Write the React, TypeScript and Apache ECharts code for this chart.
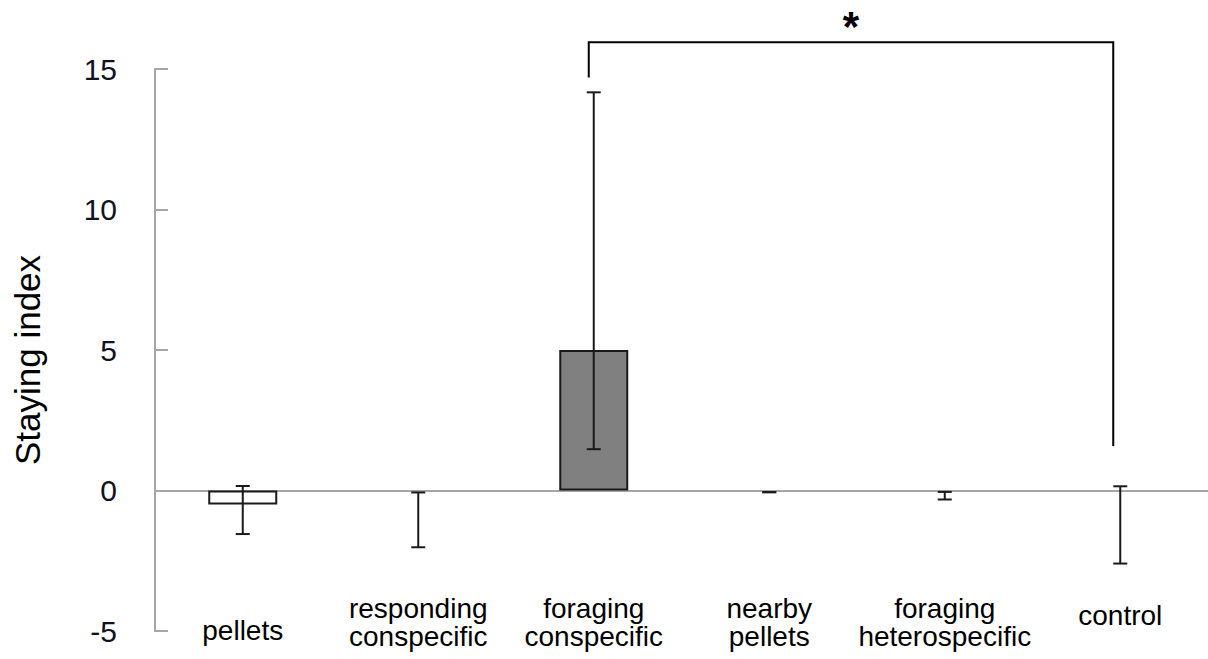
import React, { useEffect, useRef } from "react";
import * as echarts from "echarts";

const categories = [
  "pellets",
  "responding\nconspecific",
  "foraging\nconspecific",
  "nearby\npellets",
  "foraging\nheterospecific",
  "control",
];
const means = [-0.5, -0.05, 5.0, -0.03, -0.05, 0];
const errLow = [-1.55, -2.02, 1.47, -0.06, -0.32, -2.6];
const errHigh = [0.16, -0.07, 14.17, -0.06, -0.05, 0.15];
const yTicks = { min: -5, max: 15, interval: 5 };
// significance bracket: [fromIndex, toIndex, leftBottom, top, rightBottom]
const bracket = [[2, 5, 14.7, 15.95, 1.58]];
const bracketLabel = "*";

const FONT = "'Liberation Sans', Arial, sans-serif";
const labelStyleKey = ["p", "a", "a", "a", "a", "c"];

export default function App() {
  const ref = useRef<HTMLDivElement>(null);
  useEffect(() => {
    if (!ref.current) return;
    const chart = echarts.init(ref.current, null, { renderer: "svg" });
    const ink = "#1a1a1a";
    const option: any = {
      animation: false,
      backgroundColor: "#ffffff",
      grid: {
        left: 155,
        right: 0,
        top: 69,
        bottom: 28,
        containLabel: false,
        outerBoundsMode: "none",
      },
      xAxis: {
        type: "category",
        data: categories,
        boundaryGap: true,
        axisLine: { onZero: true, lineStyle: { color: "#a6a6a6", width: 2 } },
        axisTick: { show: false },
        axisLabel: {
          interval: 0,
          margin: -37,
          verticalAlign: "top",
          hideOverlap: false,
          formatter: (v: string, i: number) => {
            const k = labelStyleKey[i] || "a";
            return v
              .split("\n")
              .map((l) => `{${k}|${l}}`)
              .join("\n");
          },
          rich: {
            a: { fontSize: 28, lineHeight: 28, fontFamily: FONT, color: "#000" },
            c: { fontSize: 28, lineHeight: 42, fontFamily: FONT, color: "#000" },
            p: { fontSize: 28, lineHeight: 72, fontFamily: FONT, color: "#000" },
          },
        },
        splitLine: { show: false },
      },
      yAxis: {
        type: "value",
        min: yTicks.min,
        max: yTicks.max,
        interval: yTicks.interval,
        name: "Staying index",
        nameLocation: "middle",
        nameGap: 110,
        nameTextStyle: {
          fontSize: 35,
          fontFamily: FONT,
          color: "#000",
          padding: [0, 20, 0, 0],
        },
        axisLine: { show: true, lineStyle: { color: "#a6a6a6", width: 2 } },
        axisTick: {
          show: true,
          inside: true,
          length: 13,
          lineStyle: { color: "#a6a6a6", width: 2 },
        },
        axisLabel: { margin: 38, fontSize: 30, fontFamily: FONT, color: "#111122" },
        splitLine: { show: false },
      },
      series: [
        {
          type: "bar",
          barWidth: 69,
          data: means.map((v) => ({
            value: v,
            itemStyle:
              Math.abs(v) > 0.1
                ? {
                    color: v > 0 ? "#808080" : "#ffffff",
                    borderColor: ink,
                    borderWidth: 2,
                  }
                : { color: "rgba(0,0,0,0)", borderWidth: 0 },
          })),
          z: 2,
        },
        {
          type: "custom",
          data: categories.map((_, i) => [i, errLow[i], errHigh[i]]),
          encode: { x: 0, y: [1, 2] },
          z: 5,
          renderItem: (params: any, api: any) => {
            const x = api.value(0);
            const lo = api.coord([x, api.value(1)]);
            const hi = api.coord([x, api.value(2)]);
            const cx = lo[0];
            const w = 7;
            const st = { stroke: ink, lineWidth: 2 };
            return {
              type: "group",
              children: [
                { type: "line", shape: { x1: cx, y1: lo[1], x2: cx, y2: hi[1] }, style: st },
                { type: "line", shape: { x1: cx - w, y1: lo[1], x2: cx + w, y2: lo[1] }, style: st },
                { type: "line", shape: { x1: cx - w, y1: hi[1], x2: cx + w, y2: hi[1] }, style: st },
              ],
            };
          },
        },
        {
          type: "custom",
          data: bracket,
          clip: false,
          z: 6,
          renderItem: (params: any, api: any) => {
            const a = api.value(0);
            const b = api.value(1);
            const p1 = api.coord([a, api.value(2)]);
            const pt = api.coord([a, api.value(3)]);
            const p2 = api.coord([b, api.value(4)]);
            const dx = -5;
            const x1 = p1[0] + dx;
            const x2 = p2[0] + dx - 2;
            const yt = pt[1];
            return {
              type: "group",
              children: [
                {
                  type: "polyline",
                  shape: { points: [[x1, p1[1]], [x1, yt], [x2, yt], [x2, p2[1]]] },
                  style: { stroke: "#000", lineWidth: 2, fill: null },
                },
                {
                  type: "text",
                  x: (x1 + x2) / 2,
                  y: yt - 16,
                  style: {
                    text: bracketLabel,
                    font: `bold 42px ${FONT}`,
                    fill: "#000",
                    align: "center",
                    verticalAlign: "middle",
                  },
                },
              ],
            };
          },
        },
      ],
    };
    chart.setOption(option);
    return () => chart.dispose();
  }, []);
  return (
    <div
      ref={ref}
      style={{ position: "fixed", left: 0, top: 0, width: 1208, height: 659, background: "#fff" }}
    />
  );
}
